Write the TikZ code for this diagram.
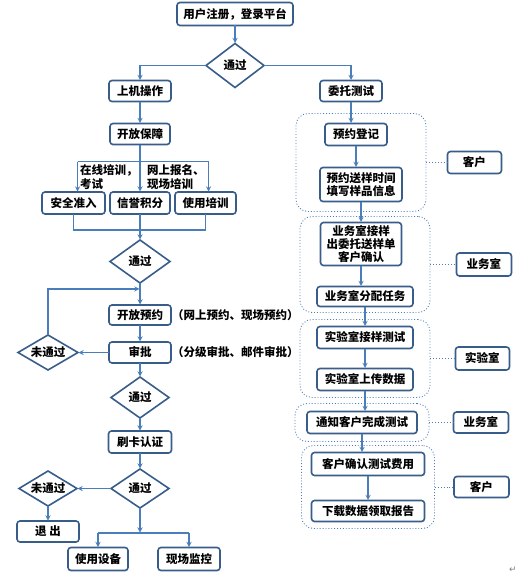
\documentclass[tikz,border=0pt]{standalone}
\usepackage{fontspec}
\setmainfont{Noto Sans CJK SC}
\newfontfamily\symfont{DejaVu Sans}
\usepackage{xcolor}
\usepackage{tikz}
\usetikzlibrary{shapes.geometric, arrows, positioning, fit, backgrounds, calc}

\definecolor{boxline}{RGB}{56,93,138}
\definecolor{arrowline}{RGB}{74,126,187}

\begin{document}
\begin{tikzpicture}[x=1pt, y=-1pt, >=stealth, font=\fontsize{11.5}{13}\selectfont\bfseries]
    \tikzset{
        block/.style={rectangle, draw=boxline, line width=1.6pt, fill=white, rounded corners=3pt, minimum height=22pt, minimum width=62pt, inner sep=1pt, outer sep=0pt, align=center},
        gate/.style={diamond, draw=boxline, line width=1.6pt, fill=white, inner sep=0pt, outer sep=0pt, minimum width=58pt, minimum height=42pt, label=center:#1},
        group/.style={draw=arrowline, line width=0.9pt, dotted, rounded corners=12pt},
        flow/.style={draw=arrowline, line width=1.3pt, ->, shorten >=0.5pt},
        wire/.style={draw=arrowline, line width=1.3pt},
        link/.style={draw=arrowline, line width=0.9pt, dotted},
        note/.style={inner sep=0pt, align=left}
    }
    \useasboundingbox (0,0) rectangle (521,578);

    % left column
    \node (top) [block, minimum width=116pt, minimum height=23pt] at (235,14) {用户注册，登录平台};
    \node (pass1) [gate=通过, minimum height=44pt, below=18pt of top] {};
    \node (oper) [block, minimum height=21pt] at (140,91) {上机操作};
    \node (guar) [block, minimum width=60pt, minimum height=21pt, below=22pt of oper] {开放保障};

    \node (credit) [block, minimum width=60pt] at (140,203) {信誉积分};
    \node (safe) [block, minimum width=63pt, left=5pt of credit] {安全准入};
    \node (train) [block, minimum width=61pt, right=5pt of credit] {使用培训};
    \node (t1) [note, anchor=west, font=\fontsize{11.5}{14}\selectfont\bfseries] at (80,177) {在线培训，\\考试};
    \node (t2) [note, anchor=west, font=\fontsize{11.5}{14}\selectfont\bfseries] at (147,177) {网上报名、\\现场培训};

    \node (pass2) [gate=通过, minimum width=60pt, minimum height=43pt, below=26pt of credit] {};
    \node (open) [block, minimum height=20pt, below=22pt of pass2] {开放预约};
    \node (appr) [block, minimum height=21pt, below=17pt of open] {审批};
    \node (fail1) [gate=未通过, minimum width=60pt, minimum height=35pt, left=31pt of appr] {};
    \node (n1) [note, right=1pt of open] {（网上预约、现场预约）};
    \node (n2) [note, right=1pt of appr] {（分级审批、邮件审批）};

    \node (pass3) [gate=通过, minimum height=41pt, below=14pt of appr] {};
    \node (card) [block, minimum width=63pt, below=13pt of pass3] {刷卡认证};
    \node (pass4) [gate=通过, minimum height=39pt, below=16pt of card] {};
    \node (fail2) [gate=未通过, minimum height=35pt, left=34pt of pass4] {};
    \node (quit) [block, minimum height=21pt, below=15pt of fail2] {退\ 出};
    \node (equip) [block, minimum width=60pt, minimum height=23pt] at (98,559) {使用设备};
    \node (watch) [block, minimum height=23pt, right=30pt of equip] {现场监控};

    % right column
    \node (entrust) [block, minimum height=21pt] at (351,91) {委托测试};
    \node (book) [block, below=22pt of entrust, xshift=5pt] {预约登记};
    \node (sample) [block, minimum width=82pt, minimum height=34pt, below=22pt of book, xshift=5pt] {预约送样时间\\填写样品信息};
    \node (receive) [block, minimum width=81pt, minimum height=43pt, below=21pt of sample] {业务室接样\\出委托送样单\\客户确认};
    \node (assign) [block, minimum width=96pt, minimum height=20pt, below=21pt of receive, xshift=4pt] {业务室分配任务};
    \node (labtest) [block, minimum width=96pt, below=20pt of assign] {实验室接样测试};
    \node (upload) [block, minimum width=96pt, below=20pt of labtest] {实验室上传数据};
    \node (notify) [block, minimum width=110pt, below=21pt of upload, xshift=-3pt] {通知客户完成测试};
    \node (confirm) [block, minimum width=113pt, minimum height=23pt, below=19pt of notify, xshift=6pt] {客户确认测试费用};
    \node (report) [block, minimum width=113pt, minimum height=21pt, below=25pt of confirm] {下载数据领取报告};

    % dotted groups and roles
    \node (g1) [group, fit=(book)(sample), inner xsep=24pt, inner ysep=10pt] {};
    \node (g2) [group, fit=(receive)(assign), inner xsep=17pt, inner ysep=6pt] {};
    \node (g3) [group, fit=(labtest)(upload), inner xsep=17pt, inner ysep=7pt] {};
    \node (g4) [group, fit=(notify), inner xsep=12pt, inner ysep=8pt] {};
    \node (g5) [group, fit=(confirm)(report), inner xsep=10pt, inner ysep=7pt] {};
    \node (client1) [block, minimum width=54pt, right=21pt of g1] {客户};
    \node (office1) [block, minimum width=55pt, minimum height=23pt, right=26pt of g2] {业务室};
    \node (lab) [block, minimum width=54pt, minimum height=23pt, right=25pt of g3] {实验室};
    \node (office2) [block, minimum width=55pt, minimum height=21pt, right=24pt of g4] {业务室};
    \node (client2) [block, minimum width=55pt, minimum height=21pt, right=19pt of g5] {客户};
    \node (mark) [text=gray, font=\fontsize{9}{9}\selectfont\symfont] at (513,570) {↵};

    % connectors, left
    \path [flow] (top) -- (pass1);
    \path [flow] (pass1.west) -| (oper.north);
    \path [flow] (pass1.east) -| (entrust.north);
    \path [flow] (oper) -- (guar);
    \coordinate (split) at ($(guar.south)+(0,17)$);
    \coordinate (bl) at ($(safe.north |- split)+(4,0)$);
    \coordinate (br) at ($(train.north |- split)+(3,0)$);
    \draw [wire] (guar.south) -- (split);
    \draw [wire] (bl) -- (br);
    \path [flow] (bl) -- (bl |- safe.north);
    \path [flow] (split) -- (split |- credit.north);
    \path [flow] (br) -- (br |- train.north);
    \coordinate (join) at ($(credit.south)+(0,16)$);
    \draw [wire] (safe.south) |- (join) -| (train.south);
    \draw [wire] (credit.south) -- (join);
    \path [flow] (join) -- (join |- pass2.north);
    \coordinate (back) at ($(pass2.south)!0.27!(open.north)$);
    \path [flow] (pass2) -- (open);
    \path [flow] (fail1.north) |- (back);
    \path [flow] (open) -- (appr);
    \path [flow] (appr) -- (fail1);
    \path [flow] (appr) -- (pass3);
    \path [flow] (pass3) -- (card);
    \path [flow] (card) -- (pass4);
    \path [flow] (pass4) -- (fail2);
    \path [flow] (fail2) -- (quit);
    \coordinate (fork) at ($(pass4.south)+(0,25)$);
    \path [flow] (pass4) -- (fork);
    \draw [wire] (fork -| equip) -- (fork -| watch);
    \path [flow] (fork -| equip) -- (equip);
    \path [flow] (fork -| watch) -- (watch);

    % connectors, right
    \path [flow] (entrust.south) -- (entrust.south |- book.north);
    \path [flow] (book.south) -- (book.south |- sample.north);
    \path [flow] (sample.south) -- (sample.south |- receive.north);
    \path [flow] (receive.south) -- (receive.south |- assign.north);
    \path [flow] (assign.south) -- (assign.south |- labtest.north);
    \path [flow] (labtest) -- (upload);
    \path [flow] (upload.south) -- (upload.south |- notify.north);
    \path [flow] (notify.south) -- (notify.south |- confirm.north);
    \path [flow] (confirm) -- (report);
    \path [link] (g1.east |- client1) -- (client1);
    \path [link] (g2.east |- office1) -- (office1);
    \path [link] (g3.east |- lab) -- (lab);
    \path [link] (g4.east |- office2) -- (office2);
    \path [link] (g5.east |- client2) -- (client2);

\end{tikzpicture}
\end{document}
